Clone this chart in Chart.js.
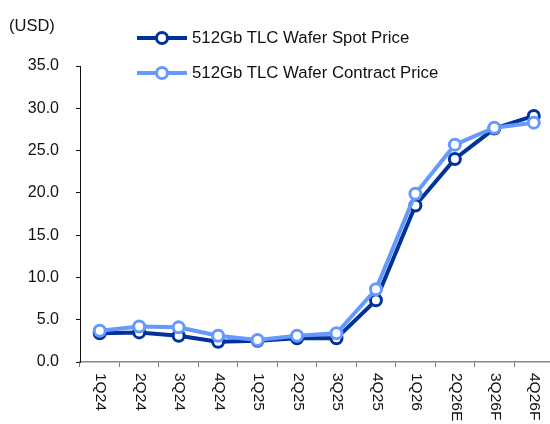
<!DOCTYPE html>
<html>
<head>
<meta charset="utf-8">
<script src="https://cdn.jsdelivr.net/npm/chart.js@4"></script>
<style>
    html, body { margin: 0; padding: 0; background: #fff; overflow: hidden; }
    body { width: 550px; height: 424px; position: relative; font-family: "Liberation Sans", Arial, sans-serif; color: #111; }
    #wrap { position: absolute; left: 0; top: 0; width: 562px; height: 424px; }
    .unit { position: absolute; left: 9px; top: 16px; font-size: 16.5px; }
    .leg { position: absolute; left: 137px; height: 20px; }
    .leg .ln { position: absolute; left: 0; top: 8px; width: 50px; height: 4px; }
    .leg .dot { position: absolute; left: 18px; top: 3px; width: 8px; height: 8px; border-radius: 50%; background: #fff; border: 3px solid; }
    .leg .tx { position: absolute; left: 55px; top: 0; white-space: nowrap; font-size: 16.8px; line-height: 20px; }
</style>
</head>
<body>
<div id="wrap"><canvas id="chart" width="562" height="424"></canvas></div>
<div class="unit">(USD)</div>
<div class="leg" style="top:28px"><div class="ln" style="background:#003399"></div><div class="dot" style="border-color:#003399"></div><div class="tx">512Gb TLC Wafer Spot Price</div></div>
<div class="leg" style="top:63px"><div class="ln" style="background:#6699ff"></div><div class="dot" style="border-color:#6699ff"></div><div class="tx">512Gb TLC Wafer Contract Price</div></div>
<script>
// quarters on the x axis
const quarters = ['1Q24', '2Q24', '3Q24', '4Q24', '1Q25', '2Q25', '3Q25', '4Q25', '1Q26', '2Q26E', '3Q26F', '4Q26F'];
// USD per wafer
const spotPrice = [3.4, 3.5, 3.1, 2.4, 2.5, 2.8, 2.8, 7.3, 18.5, 24.0, 27.6, 29.1];
const contractPrice = [3.7, 4.2, 4.1, 3.1, 2.6, 3.1, 3.4, 8.6, 19.9, 25.7, 27.7, 28.3];
const yTicks = [0, 5, 10, 15, 20, 25, 30, 35];

const SPOT = '#003399';
const CONTRACT = '#6699ff';

// x labels read top-to-bottom, so draw them ourselves
const rotatedLabels = {
    id: 'rotatedLabels',
    afterDraw(chart) {
        const ctx = chart.ctx;
        const xs = chart.scales.x;
        ctx.save();
        ctx.font = '15.5px "Liberation Sans", Arial, sans-serif';
        ctx.fillStyle = '#111';
        ctx.textAlign = 'left';
        ctx.textBaseline = 'middle';
        quarters.forEach((q, i) => {
            const x = xs.getPixelForValue(i) + 1;
            ctx.save();
            ctx.translate(x, 373);
            ctx.rotate(Math.PI / 2);
            ctx.fillText(q, 0, 0);
            ctx.restore();
        });
        ctx.restore();
    }
};

function lineSet(label, data, color, order) {
    return {
        label: label,
        data: data,
        borderColor: color,
        backgroundColor: '#fff',
        borderWidth: 4,
        pointRadius: 5.5,
        pointBorderWidth: 3,
        pointBackgroundColor: '#fff',
        pointBorderColor: color,
        tension: 0,
        order: order
    };
}

new Chart(document.getElementById('chart').getContext('2d'), {
    type: 'line',
    data: {
        labels: quarters,
        datasets: [
            lineSet('512Gb TLC Wafer Spot Price', spotPrice, SPOT, 2),
            lineSet('512Gb TLC Wafer Contract Price', contractPrice, CONTRACT, 1)
        ]
    },
    options: {
        responsive: false,
        animation: false,
        layout: { padding: { top: 66, right: 2, left: 0, bottom: 0 } },
        plugins: { legend: { display: false }, tooltip: { enabled: false } },
        scales: {
            x: {
                offset: true,
                grid: { offset: true, drawOnChartArea: false, tickLength: 5, color: '#777', lineWidth: 1 },
                border: { color: '#888', width: 1.5 },
                ticks: { display: false },
                afterFit(scale) { scale.height = 62; }
            },
            y: {
                min: 0,
                max: 35,
                afterBuildTicks(scale) { scale.ticks = yTicks.map(v => ({ value: v })); },
                grid: { drawOnChartArea: false, tickLength: 4, color: '#111', lineWidth: 1 },
                border: { color: '#111', width: 1 },
                ticks: {
                    padding: 17,
                    color: '#111',
                    font: { family: '"Liberation Sans", Arial, sans-serif', size: 16 },
                    callback: v => v.toFixed(1)
                },
                afterFit(scale) { scale.width = 80; }
            }
        }
    },
    plugins: [rotatedLabels]
});
</script>
</body>
</html>
